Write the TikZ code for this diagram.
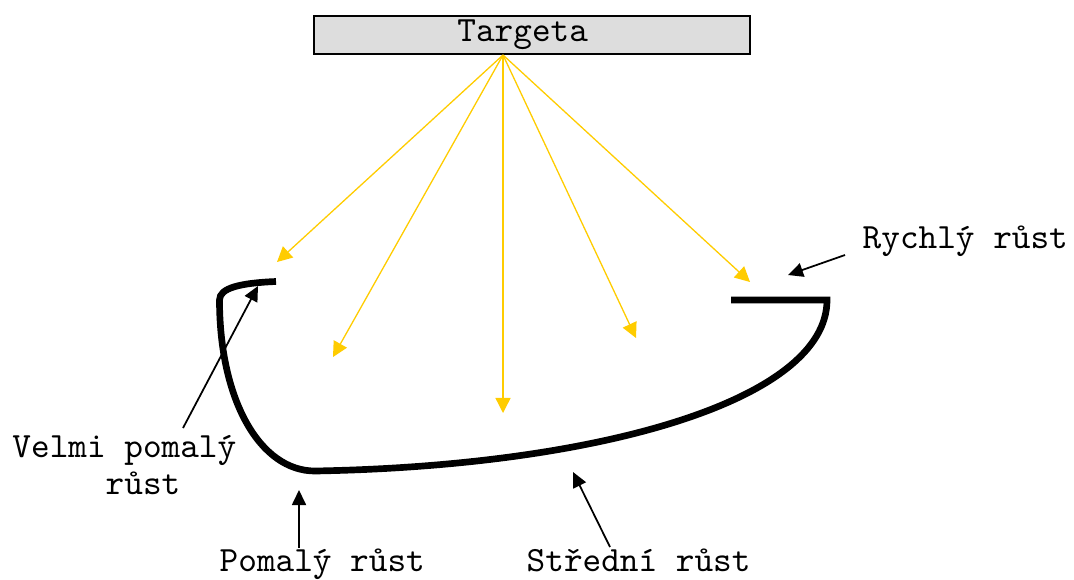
\documentclass[tikz,border=0pt]{standalone}
\usepackage{fontspec}
\usetikzlibrary{arrows.meta}
\definecolor{beamyellow}{HTML}{FFCC00}
\definecolor{targetgray}{HTML}{DDDDDD}
\begin{document}
\begin{tikzpicture}[x=0.01cm, y=-0.01cm,
  every node/.style={font=\ttfamily\fontsize{10.1}{10.3}\selectfont, inner sep=0pt},
  beam/.style={-{Triangle[length=0.15cm,width=0.15cm]}, beamyellow, line width=0.37pt},
  pointer/.style={-{Triangle[length=0.15cm,width=0.14cm]}, line width=0.5pt},
  film/.style={line width=1.9pt}]
\useasboundingbox (0,0) rectangle (1074,579);
% Target
\node [draw, line width=0.45pt, fill=targetgray, minimum width=4.36cm, minimum height=0.38cm] (target) at (532,35) {Targeta\hphantom{x}};
% Yellow beams from the target
\coordinate (src) at (503,55);
\coordinate (b1) at (277,262);
\coordinate (b2) at (333,357);
\coordinate (b3) at (503,413);
\coordinate (b4) at (636,338);
\coordinate (b5) at (750,282);
\foreach \b in {b1,b2,b3,b4,b5}
  \draw [beam] (src) -- (\b);
% Grown film
\draw [film] (276,281.5) .. controls (240,283) and (219.5,288) .. (219.5,300)
  .. controls (219.5,400) and (260,471) .. (315,471)
  .. controls (600,466) and (827,400) .. (827,300) -- (731,300);
% Labels
\node [anchor=base west] (fast) at (862,248) {Rychlý růst};
\node [align=center] (veryslow) at (143,465) {Velmi pomalý\hphantom{xx}\\růst};
\node [anchor=base west] (slow) at (219,571) {Pomalý růst};
\node [anchor=base west] (medium) at (526,571) {Střední růst};
% Pointers
\coordinate (fastend) at (788,275);
\coordinate (vsstart) at (183,428);
\coordinate (vsend) at (258,286);
\coordinate (slowstart) at (299,548);
\coordinate (slowend) at (299,490);
\coordinate (medstart) at (610,547);
\coordinate (medend) at (573,472);
\draw [pointer] (845,255) -- (fastend);
\draw [pointer] (vsstart) -- (vsend);
\draw [pointer] (slowstart) -- (slowend);
\draw [pointer] (medstart) -- (medend);
\end{tikzpicture}
\end{document}
